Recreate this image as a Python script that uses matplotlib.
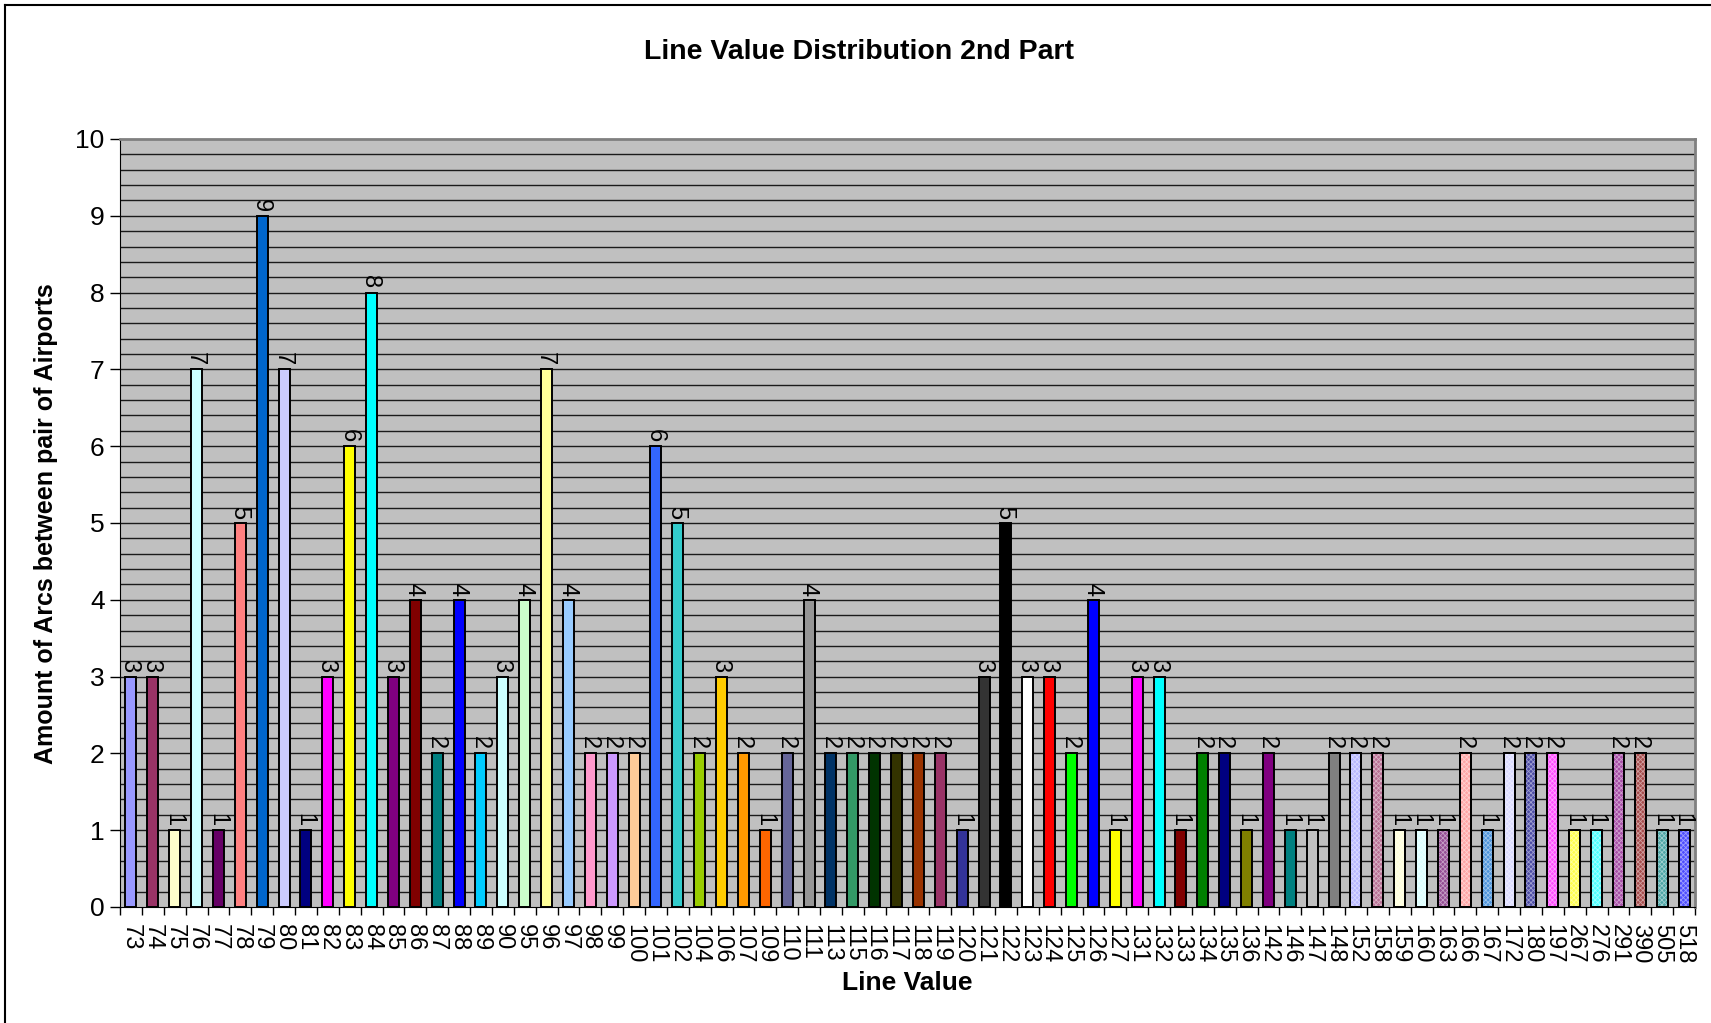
import numpy as np
import matplotlib
matplotlib.use("Agg")
import matplotlib.pyplot as plt
from matplotlib.colors import to_rgb
from matplotlib.lines import Line2D

plt.rcParams['font.family'] = ['Liberation Sans', 'DejaVu Sans']

line_values = ['73', '74', '75', '76', '77', '78', '79', '80', '81', '82', '83', '84',
               '85', '86', '87', '88', '89', '90', '95', '96', '97', '98', '99', '100',
               '101', '102', '104', '106', '107', '109', '110', '111', '113', '115', '116',
               '117', '118', '119', '120', '121', '122', '123', '124', '125', '126', '127',
               '131', '132', '133', '134', '135', '136', '142', '146', '147', '148', '152',
               '158', '159', '160', '163', '166', '167', '172', '180', '197', '267', '276',
               '291', '390', '505', '518']

arc_counts = [3, 3, 1, 7, 1, 5, 9, 7, 1, 3, 6, 8,
              3, 4, 2, 4, 2, 3, 4, 7, 4, 2, 2, 2,
              6, 5, 2, 3, 2, 1, 2, 4, 2, 2, 2,
              2, 2, 2, 1, 3, 5, 3, 3, 2, 4, 1,
              3, 3, 1, 2, 2, 1, 2, 1, 1, 2, 2,
              2, 1, 1, 1, 2, 1, 2, 2, 2, 1, 1,
              2, 2, 1, 1]

# excel style palette, the last 16 series reuse the first colours with a checker fill
bar_colors = ['#9999FF', '#993366', '#FFFFCC', '#CCFFFF', '#660066', '#FF8080', '#0066CC',
              '#CCCCFF', '#000080', '#FF00FF', '#FFFF00', '#00FFFF', '#800080', '#800000',
              '#008080', '#0000FF', '#00CCFF', '#CCFFFF', '#CCFFCC', '#FFFF99', '#99CCFF',
              '#FF99CC', '#CC99FF', '#FFCC99', '#3366FF', '#33CCCC', '#99CC00', '#FFCC00',
              '#FF9900', '#FF6600', '#666699', '#969696', '#003366', '#339966', '#003300',
              '#333300', '#993300', '#993366', '#333399', '#333333', '#000000', '#FFFFFF',
              '#FF0000', '#00FF00', '#0000FF', '#FFFF00', '#FF00FF', '#00FFFF', '#800000',
              '#008000', '#000080', '#808000', '#800080', '#008080', '#C0C0C0', '#808080',
              '#9999FF', '#993366', '#FFFFCC', '#CCFFFF', '#660066', '#FF8080', '#0066CC',
              '#CCCCFF', '#000080', '#FF00FF', '#FFFF00', '#00FFFF', '#800080', '#800000',
              '#008080', '#0000FF']
n_checker = 16


def lighten(c, amt):
    r = np.array(to_rgb(c))
    return tuple(r + (1 - r) * amt)


fig = plt.figure(figsize=(17.11, 10.23), dpi=100)
ax = fig.add_axes([120 / 1711, 1 - 907 / 1023, 1575 / 1711, 768 / 1023])
ax.set_facecolor('#C0C0C0')

x = np.arange(len(line_values))
n = len(line_values)

# grid every 0.2
for g in np.arange(0.2, 10.0, 0.2):
    ax.axhline(g, color='#1a1a1a', lw=1.0, zorder=1)

plain = n - n_checker
ax.bar(x[:plain], arc_counts[:plain], width=0.5, color=bar_colors[:plain],
       edgecolor='black', linewidth=1.4, zorder=3)

plt.rcParams['hatch.linewidth'] = 0.6
chk_colors = [lighten(c, 0.3) for c in bar_colors[plain:]]
ax.bar(x[plain:], arc_counts[plain:], width=0.5, color=chk_colors,
       edgecolor='black', linewidth=1.4, zorder=3)
ax.bar(x[plain:], arc_counts[plain:], width=0.5, facecolor='none',
       edgecolor=(1, 1, 1, 0.45), hatch='xxxxxxx', linewidth=0, zorder=4)
ax.bar(x[plain:], arc_counts[plain:], width=0.5, facecolor='none',
       edgecolor='black', linewidth=1.4, zorder=5)

for xi, v in zip(x, arc_counts):
    ax.annotate(str(v), (xi, v), xytext=(-1, 3), textcoords='offset points',
                rotation=270, ha='center', va='bottom', fontsize=17, zorder=6)

ax.set_xlim(-0.5, n - 0.5)
ax.set_ylim(0, 10)
ax.set_yticks(np.arange(0, 11, 1))
ax.tick_params(axis='y', length=7, width=1, labelsize=19, pad=4, color='black')
ax.set_xticks(x)
ax.set_xticklabels(line_values, rotation=270, fontsize=17)
ax.tick_params(axis='x', which='major', length=0, pad=12)
ax.set_xticks(np.arange(-0.5, n, 1), minor=True)
ax.tick_params(axis='x', which='minor', length=6, width=1, color='black')

ax.spines['left'].set_color('black')
ax.spines['bottom'].set_color('black')
ax.spines['top'].set_color('#808080')
ax.spines['right'].set_color('#808080')
ax.spines['top'].set_linewidth(2)
ax.spines['right'].set_linewidth(2)

fig.text(859 / 1711, 1 - 52 / 1023, 'Line Value Distribution 2nd Part', ha='center',
         va='center', fontsize=20.5, fontweight='bold')
fig.text(907 / 1711, 1 - 983 / 1023, 'Line Value', ha='center', va='center',
         fontsize=19, fontweight='bold')
fig.text(46 / 1711, 1 - 524 / 1023, 'Amount of Arcs between pair of Airports', ha='center',
         va='center', rotation=90, fontsize=18, fontweight='bold')

# chart frame
fig.add_artist(Line2D([5 / 1711, 5 / 1711], [0, 1 - 5 / 1023], color='black', lw=1.5))
fig.add_artist(Line2D([5 / 1711, 1], [1 - 5 / 1023, 1 - 5 / 1023], color='black', lw=1.5))

fig.savefig('out.png', dpi=100)
